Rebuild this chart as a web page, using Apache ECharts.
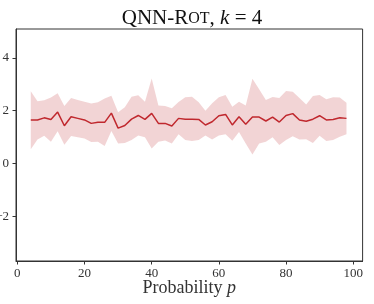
<!DOCTYPE html>
<html>
<head>
<meta charset="utf-8">
<script src="https://cdn.jsdelivr.net/npm/echarts@6/dist/echarts.min.js"></script>
<style>html,body{margin:0;padding:0;background:#fff}#c{width:374px;height:304px}</style>
</head>
<body>
<div id="c"></div>
<script>
const probabilities = [4,6,8,10,12,14,16,18,20,22,24,26,28,30,32,34,36,38,40,42,44,46,48,50,52,54,56,58,60,62,64,66,68,70,72,74,76,78,80,82,84,86,88,90,92,94,96,98];
const meanValues = [1.65,1.65,1.73,1.67,1.95,1.43,1.77,1.71,1.65,1.52,1.56,1.56,1.91,1.34,1.44,1.68,1.82,1.67,1.90,1.52,1.52,1.42,1.71,1.68,
                    1.68,1.67,1.46,1.58,1.81,1.86,1.46,1.77,1.49,1.76,1.76,1.61,1.76,1.57,1.82,1.89,1.65,1.60,1.68,1.81,1.65,1.67,1.73,1.71];
const upperValues = [2.74,2.36,2.40,2.50,2.66,2.18,2.48,2.41,2.34,2.27,2.32,2.46,2.57,1.94,2.13,2.53,2.59,2.34,3.22,2.20,2.18,2.09,2.33,2.51,
                     2.53,2.32,2.00,2.28,2.51,2.60,2.15,2.34,2.20,3.21,2.81,2.41,2.52,2.48,2.75,2.72,2.48,2.24,2.56,2.60,2.44,2.51,2.50,2.30];
const lowerValues = [0.54,0.91,1.05,0.82,1.22,0.71,1.04,0.99,0.95,0.81,0.82,0.66,1.23,0.76,0.78,0.89,1.06,0.99,0.57,0.82,0.87,0.76,1.11,0.89,
                     0.85,0.89,1.06,0.91,1.06,1.11,0.86,1.19,0.76,0.34,0.76,0.82,0.99,0.70,0.89,1.03,0.91,0.92,0.78,1.05,0.85,0.89,1.01,1.11];
const xTicks = [0,20,40,60,80,100];
const yTicks = [-2,0,2,4];

const chart = echarts.init(document.getElementById('c'), null, {renderer:'canvas'});
const serif = '"Liberation Serif","DejaVu Serif",serif';
const red = '#c0282e';
const axisCol = '#333';
chart.setOption({
  animation:false,
  title:{
    text:'{a|QNN-R}{b|OT}{a|, }{i|k}{a| = 4}',
    left:187, top:3, textAlign:'center',
    textStyle:{fontWeight:'normal',rich:{
      a:{fontFamily:serif,fontSize:21,fontWeight:'normal',color:'#111'},
      b:{fontFamily:serif,fontSize:16,fontWeight:'normal',color:'#111'},
      i:{fontFamily:serif,fontSize:21,fontStyle:'italic',fontWeight:'normal',color:'#111'}
    }}
  },
  grid:{left:16,top:29,right:11.4,bottom:43,show:true,borderColor:axisCol,borderWidth:1,outerBoundsMode:'none',containLabel:false},
  xAxis:{
    type:'value',min:-0.4,max:102.8,
    name:'{a|Probability }{i|p}',nameLocation:'middle',nameGap:18,nameMoveOverlap:false,
    nameTextStyle:{verticalAlign:'top',rich:{a:{fontFamily:serif,fontSize:18,color:'#333'},i:{fontFamily:serif,fontSize:18,fontStyle:'italic',color:'#333'}}},
    axisLine:{show:true,onZero:false,lineStyle:{color:axisCol,width:1}},
    axisTick:{show:true,length:3.5,customValues:xTicks,lineStyle:{color:axisCol}},
    axisLabel:{customValues:xTicks,fontFamily:serif,fontSize:13,color:'#333',margin:6},
    splitLine:{show:false}
  },
  yAxis:{
    type:'value',min:-3.7,max:5.1,
    axisLine:{show:true,onZero:false,lineStyle:{color:axisCol,width:1}},
    axisTick:{show:true,length:3.5,customValues:yTicks,lineStyle:{color:axisCol}},
    axisLabel:{customValues:yTicks,fontFamily:serif,fontSize:13,color:'#333',margin:7,
      formatter:v=>v<0?'\u2212'+Math.abs(v):String(v)},
    splitLine:{show:false}
  },
  series:[
    {type:'custom',silent:true,clip:true,
     data:[0],
     renderItem:function(params, api){
       const pts = [];
       for (let i=0;i<probabilities.length;i++) pts.push(api.coord([probabilities[i], upperValues[i]]));
       for (let i=probabilities.length-1;i>=0;i--) pts.push(api.coord([probabilities[i], lowerValues[i]]));
       return {type:'polygon',shape:{points:pts},style:{fill:'rgba(192,40,46,0.2)',stroke:null}};
     }},
    {type:'line',symbol:'none',lineStyle:{color:red,width:1.5},z:5,
     data:probabilities.map((p,i)=>[p,meanValues[i]])}
  ]
});
</script>
</body>
</html>
